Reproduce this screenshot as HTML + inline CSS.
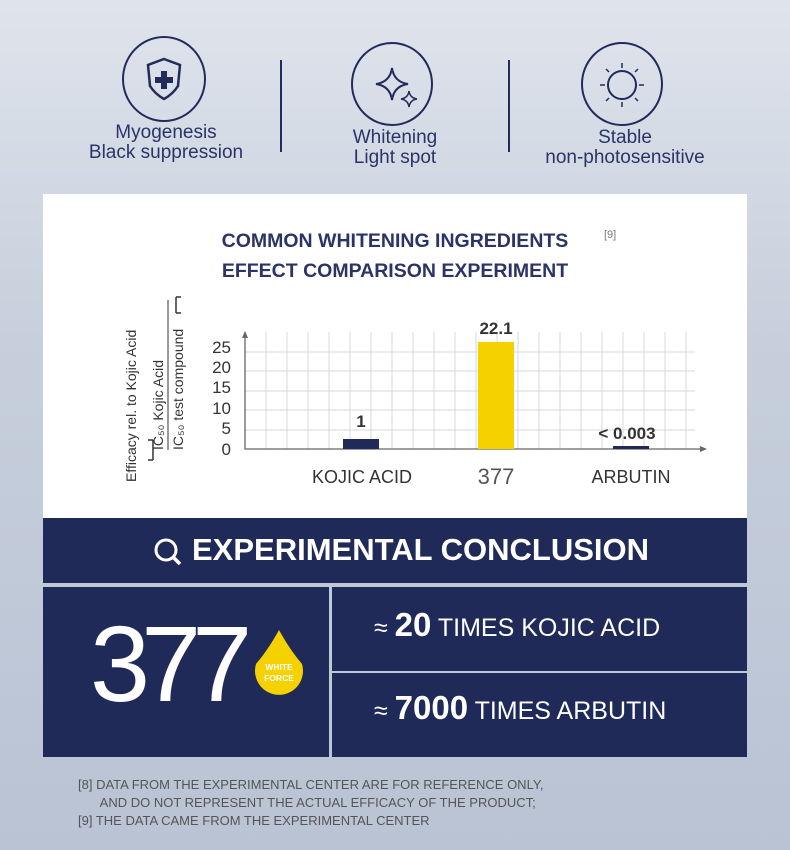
<!DOCTYPE html>
<html><head><style>
body{margin:0;width:790px;height:850px;overflow:hidden;background:linear-gradient(180deg,#dfe4ec 0%,#c7cfdc 40%,#b9c3d4 100%);font-family:"Liberation Sans",sans-serif;position:relative}
.a{position:absolute}
.lbl{color:#2a3466;font-size:19px;text-align:center;line-height:20px;width:240px}
.nav{background:#1f2a58}
</style></head><body>
<svg class="a" style="left:0;top:0" width="790" height="190">
<g fill="none" stroke="#222b5a" stroke-width="2">
<ellipse cx="164" cy="79" rx="41" ry="42"/>
<ellipse cx="392" cy="84" rx="40" ry="41"/>
<ellipse cx="622" cy="84" rx="40" ry="41"/>
<line x1="281" y1="60" x2="281" y2="152"/><line x1="509" y1="60" x2="509" y2="152"/>
<path d="M164 59 L180 65 L178 86 Q173 94 164 99 Q155 94 150 86 L148 65 Z" stroke-width="2.5"/>
<path d="M392 68 Q394 82 408 84 Q394 86 392 100 Q390 86 376 84 Q390 82 392 68Z"/>
<path d="M409 91 Q410 98 417 99 Q410 100 409 107 Q408 100 401 99 Q408 98 409 91Z" stroke-width="1.5"/>
<circle cx="622" cy="85" r="14"/>
<path d="M622 63v5M622 102v5M600 85h5M639 85h5M606 69l3 3M635 98l3 3M638 69l-3 3M609 98l-3 3" stroke-width="1.5"/>
</g>
<path d="M161 71h6v6h6v6h-6v6h-6v-6h-6v-6h6z" fill="#222b5a"/>
</svg>
<div class="a lbl" style="left:46px;top:123px">Myogenesis<br>Black suppression</div>
<div class="a lbl" style="left:275px;top:128px">Whitening<br>Light spot</div>
<div class="a lbl" style="left:505px;top:128px">Stable<br>non-photosensitive</div>

<div class="a" style="left:43px;top:194px;width:704px;height:324px;background:#fff"></div>
<div class="a" style="left:180px;top:226px;width:430px;text-align:center;color:#2a3466;font-weight:bold;font-size:19.5px;line-height:30px">COMMON WHITENING INGREDIENTS<br>EFFECT COMPARISON EXPERIMENT</div>
<div class="a" style="left:604px;top:229px;font-size:11px;color:#777">[9]</div>

<svg class="a" style="left:0;top:280px" width="790" height="240">
<g stroke="#d8d8d8" stroke-width="1">
<path d="M245 72H695M245 91H695M245 111H695M245 130H695M245 150H695"/>
<path d="M266 52V169M287 52V169M308 52V169M329 52V169M350 52V169M371 52V169M392 52V169M413 52V169M434 52V169M455 52V169M476 52V169M497 52V169M518 52V169M539 52V169M560 52V169M581 52V169M602 52V169M623 52V169M644 52V169M665 52V169M686 52V169"/>
</g>
<path d="M245 52V169H700" stroke="#666" fill="none" stroke-width="1.3"/>
<path d="M242 58L245 51L248 58ZM700 166L707 169L700 172Z" fill="#666"/>
<rect x="343" y="159" width="36" height="10" fill="#1f2a58"/>
<rect x="478" y="62" width="36" height="107" fill="#f6d100"/>
<rect x="613" y="166" width="36" height="3" fill="#1f2a58"/>
<g font-size="17" fill="#333" text-anchor="end">
<text x="231" y="73">25</text><text x="231" y="93">20</text><text x="231" y="113">15</text><text x="231" y="134">10</text><text x="231" y="154">5</text><text x="231" y="175">0</text></g>
<g font-weight="bold" font-size="17" fill="#333" text-anchor="middle">
<text x="361" y="147">1</text><text x="496" y="54">22.1</text><text x="627" y="159">&lt; 0.003</text></g>
<g font-size="18" fill="#333" text-anchor="middle">
<text x="362" y="203">KOJIC ACID</text><text x="496" y="204" fill="#555" font-size="22">377</text><text x="631" y="203">ARBUTIN</text></g>
<g font-size="14" fill="#333">
<text transform="translate(136 202) rotate(-90)">Efficacy  rel. to Kojic Acid</text>
<text transform="translate(163 170) rotate(-90)">IC₅₀ Kojic Acid</text>
<text transform="translate(183 170) rotate(-90)">IC₅₀ test compound</text>
</g>
<path d="M168 170V20" stroke="#333" stroke-width="1"/>
<path d="M155 160V180M155 160H150M155 180H150" stroke="#333" fill="none" stroke-width="1.5" transform="translate(-2 0)"/>
<path d="M176 17V33M176 17H181M176 33H181" stroke="#333" fill="none" stroke-width="1.5"/>
</svg>

<div class="a nav" style="left:43px;top:518px;width:704px;height:65px"></div>
<svg class="a" style="left:152px;top:536px" width="32" height="32"><circle cx="14" cy="14" r="10" fill="none" stroke="#fff" stroke-width="3"/><path d="M21 21L28 28" stroke="#fff" stroke-width="3.5"/></svg>
<div class="a" style="left:192px;top:532px;color:#fff;font-weight:bold;font-size:31px">EXPERIMENTAL CONCLUSION</div>
<div class="a nav" style="left:43px;top:587px;width:286px;height:170px"></div>
<div class="a nav" style="left:332px;top:587px;width:415px;height:84px"></div>
<div class="a nav" style="left:332px;top:673px;width:415px;height:84px"></div>
<div class="a" style="left:90px;top:608px;color:#fff;font-size:108px;letter-spacing:-9px;line-height:112px">377</div>
<svg class="a" style="left:250px;top:628px" width="60" height="70"><path d="M29 2 Q40 22 52 36 A24 24 0 1 1 6 36 Q18 22 29 2Z" fill="#f6d100"/>
<text x="29" y="42" font-size="8.5" font-weight="bold" fill="#fff" text-anchor="middle">WHITE</text><text x="29" y="53" font-size="8.5" font-weight="bold" fill="#fff" text-anchor="middle">FORCE</text></svg>
<div class="a" style="left:374px;top:606px;color:#fff;font-size:25px;white-space:nowrap">≈ <b style="font-size:33px">20</b> TIMES KOJIC ACID</div>
<div class="a" style="left:374px;top:689px;color:#fff;font-size:25px;white-space:nowrap">≈ <b style="font-size:33px">7000</b> TIMES ARBUTIN</div>

<div class="a" style="left:78px;top:776px;color:#555;font-size:13px;line-height:18px">[8] DATA FROM THE EXPERIMENTAL CENTER ARE FOR REFERENCE ONLY,<br>&nbsp;&nbsp;&nbsp;&nbsp;&nbsp;&nbsp;AND DO NOT REPRESENT THE ACTUAL EFFICACY OF THE PRODUCT;<br>[9] THE DATA CAME FROM THE EXPERIMENTAL CENTER</div>
</body></html>
